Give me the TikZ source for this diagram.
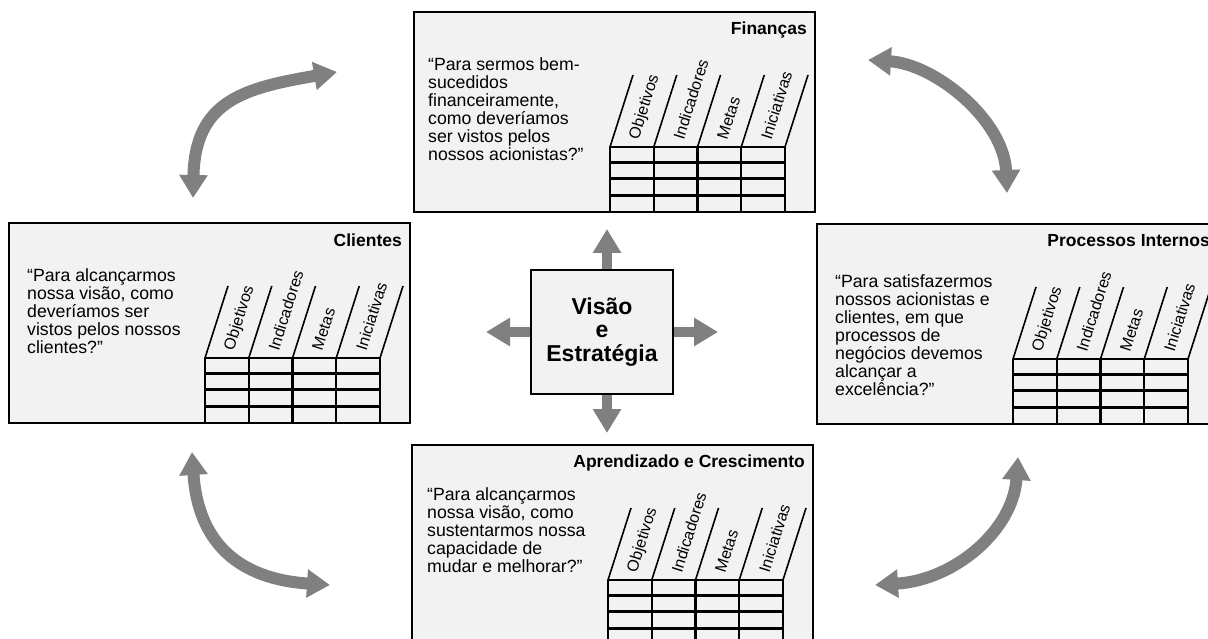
\documentclass[tikz,border=0pt]{standalone}
\usepackage{fontspec}
\setmainfont{Liberation Sans}
\usetikzlibrary{arrows.meta,backgrounds}
\definecolor{panelfill}{RGB}{242,242,242}
\definecolor{arrgray}{RGB}{128,128,128}
\tikzset{
  panel/.style={draw=black, fill=panelfill, line width=2.6pt, minimum width=401pt, minimum height=200pt, outer sep=0pt, inner sep=0pt},
  paneltitle/.style={font=\fontsize{17.5}{20}\selectfont\bfseries, inner sep=0pt},
  question/.style={font=\fontsize{17.7}{18}\selectfont, align=left, inner sep=0pt},
  collabel/.style={font=\fontsize{16}{18}\selectfont, rotate=72.3, anchor=west, inner sep=0pt},
  tabline/.style={line width=2.2pt},
  slantline/.style={line width=1.6pt},
  hubbox/.style={draw=black, fill=panelfill, line width=2.6pt, minimum width=142pt, minimum height=124pt, outer sep=0pt, align=center, font=\fontsize{23}{23.5}\selectfont\bfseries},
  blockarrow/.style={draw=arrgray, line width=10pt, -{Triangle[width=27pt,length=24pt]}},
  curvearrow/.style={draw=arrgray, line width=12pt, {Triangle[width=27pt,length=23pt]}-{Triangle[width=27pt,length=23pt]}},
}
% #1 name, #2 x, #3 y, #4 title, #5 question, #6 title baseline, #7 question left, #8 question last baseline
\newcommand\bscpanel[8]{%
  \begin{scope}[shift={(#2,-#3)}]
    \node[panel, anchor=north west] (#1) at (0,0) {};
    \node[paneltitle, anchor=base east] (#1-title) at (393,-#6) {#4};
    \node[question, anchor=base west] (#1-q) at (#7,-#8) {#5};
    \foreach \r in {135,150.5,166.5,183.5} {\draw[tabline] (196,-\r) -- (371,-\r);}
    \foreach \c in {0,...,4} {%
      \draw[tabline] (196+43.75*\c,-135) -- (196+43.75*\c,-200);
      \draw[slantline] (196+43.75*\c,-135) -- ++(23,72);
    }
    \foreach \c/\lab in {0/Objetivos,1/Indicadores,2/Metas,3/Iniciativas} {%
      \node[collabel] (#1-l\c) at (196+43.75*\c+24.5,-127) {\lab};
    }
  \end{scope}}

\begin{document}
\begin{tikzpicture}[x=1pt,y=1pt]
\useasboundingbox (0,0) rectangle (1208,-639);
\clip (0,0) rectangle (1208,-639);

% curved double arrows
\coordinate (tlA) at (193,-198); \coordinate (tlB) at (337,-72);
\draw[curvearrow] (tlA) .. controls (195,-100) and (245,-88) .. (tlB);
\coordinate (trA) at (868,-60); \coordinate (trB) at (1007,-193);
\draw[curvearrow] (trA) .. controls (935,-64) and (1004,-120) .. (trB);
\coordinate (blA) at (192,-452); \coordinate (blB) at (330,-585);
\draw[curvearrow] (blA) .. controls (198,-543) and (239,-579) .. (blB);
\coordinate (brA) at (1018,-457); \coordinate (brB) at (875,-585);
\draw[curvearrow] (brA) .. controls (1013,-530) and (955,-580) .. (brB);

% panels
\bscpanel{fin}{414}{12}{Finanças}{“Para sermos bem-\\sucedidos\\financeiramente,\\como deveríamos\\ser vistos pelos\\nossos acionistas?”}{23}{14}{149}
\bscpanel{cli}{9}{223}{Clientes}{“Para alcançarmos\\nossa visão, como\\deveríamos ser\\vistos pelos nossos\\clientes?”}{24}{18}{130}
\bscpanel{proc}{817}{224}{Processos Internos}{“Para satisfazermos\\nossos acionistas e\\clientes, em que\\processos de\\negócios devemos\\alcançar a\\excelência?”}{23}{18}{171}
\bscpanel{apr}{412}{445}{Aprendizado e Crescimento}{“Para alcançarmos\\nossa visão, como\\sustentarmos nossa\\capacidade de\\mudar e melhorar?”}{22}{15}{127}

% hub
\node[hubbox] (hub) at (602,-332) {Visão\\e\\Estratégia};
\coordinate (upTip) at (607,-229);
\coordinate (downTip) at (607,-433);
\coordinate (leftTip) at (486,-332);
\coordinate (rightTip) at (718,-332);
\begin{pgfonlayer}{background}
\draw[blockarrow] ([xshift=5pt]hub.north) -- (upTip);
\draw[blockarrow] ([xshift=5pt]hub.south) -- (downTip);
\draw[blockarrow] (hub.west) -- (leftTip);
\draw[blockarrow] (hub.east) -- (rightTip);
\end{pgfonlayer}
\end{tikzpicture}
\end{document}
